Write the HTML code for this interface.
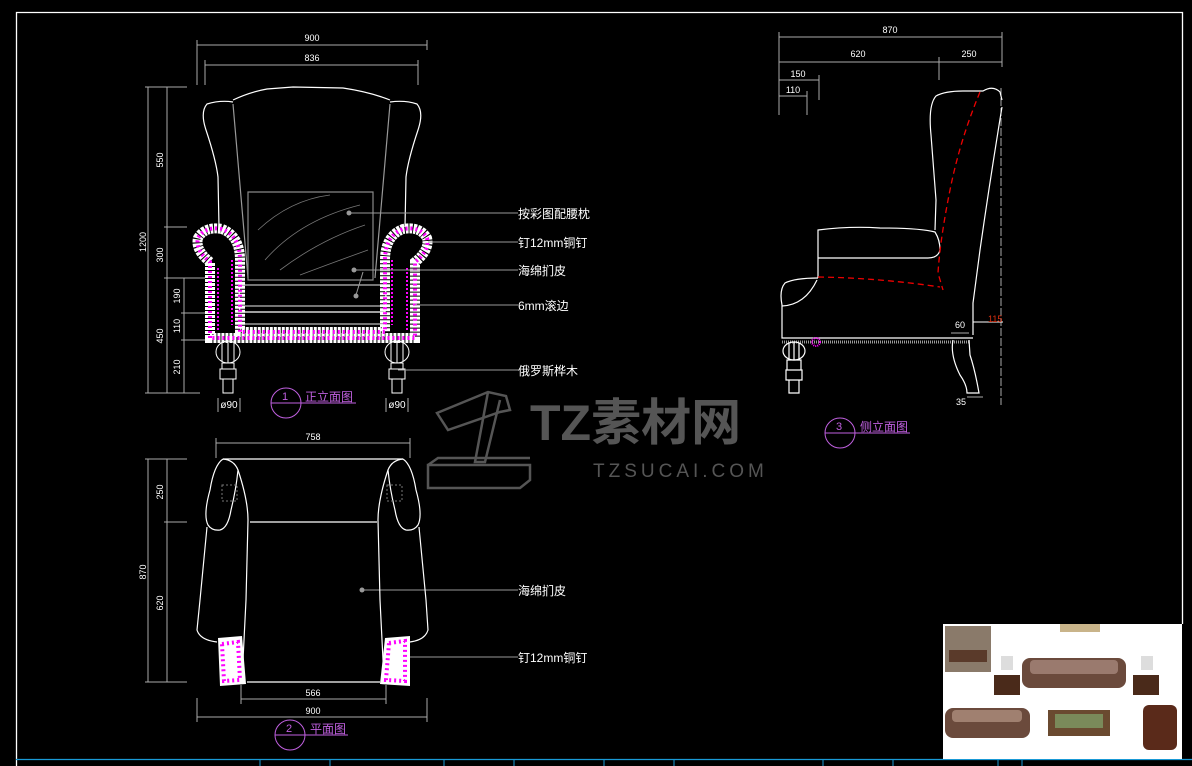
<!DOCTYPE html>
<html><head><meta charset="utf-8"><style>
html,body{margin:0;padding:0;background:#000;}
svg{display:block}
text{font-family:"Liberation Sans","Noto Sans CJK SC",sans-serif;}
</style></head><body>
<svg width="1192" height="766" viewBox="0 0 1192 766" xmlns="http://www.w3.org/2000/svg">
<rect width="1192" height="766" fill="#000"/>
<path d="M16.5 766V12.5H1182.5V624" fill="none" stroke="#fff" stroke-width="1.3"/>
<line x1="16" y1="759.5" x2="1192" y2="759.5" stroke="#1a9ad6" stroke-width="1.3"/>
<g stroke="#1a9ad6" stroke-width="1">
<line x1="260" y1="759" x2="260" y2="766"/><line x1="330" y1="759" x2="330" y2="766"/><line x1="444" y1="759" x2="444" y2="766"/><line x1="514" y1="759" x2="514" y2="766"/><line x1="604" y1="759" x2="604" y2="766"/><line x1="674" y1="759" x2="674" y2="766"/><line x1="823" y1="759" x2="823" y2="766"/><line x1="893" y1="759" x2="893" y2="766"/><line x1="998" y1="759" x2="998" y2="766"/><line x1="1022" y1="759" x2="1022" y2="766"/>
</g>

<g fill="none" stroke="#555" stroke-width="2.5">
<path d="M437 413 L488 392 L506 396 L510 410 L500 412 L448 430 Z"/>
<path d="M488 392 L475 462 L485 462 L500 400"/>
<path d="M428 465 L530 465 L530 480 L520 488 L428 488 Z M428 465 L438 458 L530 458"/>
</g>
<text x="530" y="440" font-size="50" font-weight="bold" fill="#555">TZ素材网</text>
<text x="593" y="477" font-size="19" fill="#555" letter-spacing="4">TZSUCAI.COM</text>

<g stroke="#aaa" stroke-width="1" fill="none">
<line x1="197" y1="45" x2="427" y2="45"/><line x1="197" y1="40" x2="197" y2="85"/><line x1="427" y1="40" x2="427" y2="50"/>
<line x1="205" y1="65" x2="418" y2="65"/><line x1="205" y1="60" x2="205" y2="85"/><line x1="418" y1="60" x2="418" y2="85"/>
<line x1="148" y1="87" x2="148" y2="393"/><line x1="167" y1="87" x2="167" y2="393"/><line x1="184" y1="278" x2="184" y2="393"/>
<line x1="145" y1="87" x2="187" y2="87"/><line x1="164" y1="227" x2="187" y2="227"/><line x1="164" y1="278" x2="205" y2="278"/><line x1="181" y1="313" x2="205" y2="313"/><line x1="181" y1="340" x2="205" y2="340"/><line x1="145" y1="393" x2="200" y2="393"/>
<line x1="218" y1="398" x2="218" y2="412"/><line x1="240" y1="398" x2="240" y2="412"/><line x1="386" y1="398" x2="386" y2="412"/><line x1="408" y1="398" x2="408" y2="412"/>
</g>
<g fill="#fff" font-size="9" text-anchor="middle">
<text x="312" y="41">900</text><text x="312" y="61">836</text>
<text transform="translate(146,242) rotate(-90)">1200</text>
<text transform="translate(163,160) rotate(-90)">550</text>
<text transform="translate(163,255) rotate(-90)">300</text>
<text transform="translate(163,336) rotate(-90)">450</text>
<text transform="translate(180,296) rotate(-90)">190</text>
<text transform="translate(180,326) rotate(-90)">110</text>
<text transform="translate(180,367) rotate(-90)">210</text>
<text x="229" y="408" font-size="10">ø90</text><text x="397" y="408" font-size="10">ø90</text>
</g>
<g fill="none" stroke="#fff" stroke-width="1.2">
<path d="M233 100 Q250 92 267 89 L293 87 L343 88 Q370 92 390 100"/>
<path d="M233 102 Q220 100 207 104 Q200 112 206 130 Q216 160 218 177 L219 227"/>
<path d="M390 102 Q405 100 417 104 Q424 112 418 130 Q408 160 406 177 L405 227"/>
<path d="M233 104 L248 278 M390 104 L375 278" stroke="#999"/>
<path d="M248 192 L373 192 L373 280 L248 280 Z" stroke="#888"/>
<path d="M258 230 Q290 200 330 195 M265 260 Q300 220 360 205 M280 270 Q320 240 365 225 M300 275 Q340 260 368 250" stroke="#777" stroke-width="0.8"/>
<path d="M240 285 L385 285 M240 306 L385 306 M240 324 L385 324" stroke="#bbb"/>
<path d="M240 283 Q238 300 240 312 L385 312 Q387 300 385 283"/>
</g>
<g fill="none">
<path d="M210 338 L210 262 Q195 250 198 238 Q205 226 222 229 Q240 236 240 260 L240 332 L385 332 L385 260 Q385 236 403 229 Q420 226 427 238 Q430 250 415 262 L415 338 Z" stroke="#fff" stroke-width="10" stroke-dasharray="3 1"/>
<path d="M210 338 L210 262 Q195 250 198 238 Q205 226 222 229 Q240 236 240 260 L240 332 L385 332 L385 260 Q385 236 403 229 Q420 226 427 238 Q430 250 415 262 L415 338 Z" stroke="#f0f" stroke-width="4" stroke-dasharray="2 3"/>
<path d="M218 268 L218 330 M232 260 L232 325 M392 260 L392 325 M407 268 L407 330" stroke="#f0f" stroke-width="2" stroke-dasharray="2 2"/>
</g>
<g fill="none" stroke="#fff" stroke-width="1">
<ellipse cx="228" cy="352" rx="12" ry="11"/><path d="M222 343 v18 M228 341 v22 M234 343 v18"/>
<path d="M222 363 h12 v6 h-12z M220 369 h16 v10 h-16z M223 379 h10 v14 h-10z"/>
<ellipse cx="397" cy="352" rx="12" ry="11"/><path d="M391 343 v18 M397 341 v22 M403 343 v18"/>
<path d="M391 363 h12 v6 h-12z M389 369 h16 v10 h-16z M392 379 h10 v14 h-10z"/>
</g>
<g stroke="#999" stroke-width="1">
<line x1="349" y1="213" x2="518" y2="213"/><line x1="428" y1="242" x2="518" y2="242"/><line x1="354" y1="270" x2="518" y2="270"/><line x1="415" y1="305" x2="518" y2="305"/><line x1="398" y1="370" x2="518" y2="370"/>
<line x1="362" y1="590" x2="518" y2="590"/><line x1="410" y1="657" x2="518" y2="657"/>
<line x1="363" y1="272" x2="356" y2="295"/>
</g>
<g fill="#999"><circle cx="349" cy="213" r="2.5"/><circle cx="354" cy="270" r="2.5"/><circle cx="356" cy="296" r="2.5"/><circle cx="362" cy="590" r="2.5"/></g>
<g fill="#fff" font-size="12">
<text x="518" y="218">按彩图配腰枕</text><text x="518" y="247">钉12mm铜钉</text><text x="518" y="275">海绵扪皮</text><text x="518" y="310">6mm滚边</text><text x="518" y="375">俄罗斯桦木</text>
<text x="518" y="595">海绵扪皮</text><text x="518" y="662">钉12mm铜钉</text>
</g>
<g fill="none" stroke="#c060e0" stroke-width="1">
<circle cx="286" cy="403" r="15"/><line x1="271" y1="403" x2="356" y2="403"/>
<circle cx="840" cy="433" r="15"/><line x1="825" y1="433" x2="910" y2="433"/>
<circle cx="290" cy="735" r="15"/><line x1="275" y1="735" x2="348" y2="735"/>
</g>
<g fill="#c060e0" font-size="12">
<text x="282" y="400" font-size="11">1</text><text x="305" y="401">正立面图</text>
<text x="836" y="430" font-size="11">3</text><text x="860" y="431">侧立面图</text>
<text x="286" y="732" font-size="11">2</text><text x="310" y="733">平面图</text>
</g>

<g stroke="#aaa" stroke-width="1" fill="none">
<line x1="779" y1="37" x2="1002" y2="37"/><line x1="779" y1="62" x2="1002" y2="62"/>
<line x1="779" y1="32" x2="779" y2="115"/><line x1="1002" y1="32" x2="1002" y2="67"/><line x1="939" y1="57" x2="939" y2="80"/>
<line x1="779" y1="80" x2="819" y2="80"/><line x1="819" y1="75" x2="819" y2="100"/>
<line x1="779" y1="96" x2="807" y2="96"/><line x1="807" y1="91" x2="807" y2="115"/>
<line x1="1001" y1="88" x2="1001" y2="405" stroke-dasharray="8 2"/>
<line x1="951" y1="333" x2="969" y2="333"/><line x1="967" y1="397" x2="983" y2="397"/>
</g>
<line x1="973" y1="322" x2="1003" y2="322" stroke="#fff"/>
<g fill="#fff" font-size="9" text-anchor="middle">
<text x="890" y="33">870</text><text x="858" y="57">620</text><text x="969" y="57">250</text>
<text x="798" y="77">150</text><text x="793" y="93">110</text>
<text x="960" y="328">60</text><text x="961" y="405">35</text>
</g>
<text x="988" y="322" fill="#e03010" font-size="9">115</text>
<g fill="none" stroke="#fff" stroke-width="1.2">
<path d="M935 230 L936 200 L931 135 Q928 105 936 96 Q945 91 963 91 L983 91 Q993 85 1000 92 L1002 100"/>
<path d="M1002 107 Q990 180 980 250 L973 303 L973 335"/>
<path d="M818 278 L818 230 Q850 226 880 228 Q920 228 935 232 Q940 240 940 250 Q938 258 928 258 L818 258"/>
<path d="M818 278 Q795 278 785 283 Q779 290 782 305 L782 338 L973 338"/>
<path d="M782 306 Q805 305 817 280" />
<path d="M782 342 L970 342" stroke="#999" stroke-width="3" stroke-dasharray="1 1"/>
<path d="M953 340 Q950 355 960 375 Q967 385 967 393 L979 393 Q975 370 970 355 L969 340"/>
<ellipse cx="794" cy="351" rx="11" ry="9"/><path d="M789 343 v16 M794 342 v18 M799 343 v16"/>
<path d="M787 360 h14 v10 h-14z M786 370 h16 v10 h-16z M789 380 h10 v13 h-10z"/>
</g>
<g fill="none" stroke="#e00" stroke-width="1.3" stroke-dasharray="6 4">
<path d="M980 92 Q960 140 950 190 Q940 240 938 273 L943 290"/>
<path d="M818 277 Q880 278 940 287"/>
</g>
<circle cx="816" cy="342" r="4" fill="none" stroke="#f0f" stroke-width="2" stroke-dasharray="1 1"/>

<g stroke="#aaa" stroke-width="1" fill="none">
<line x1="216" y1="443" x2="410" y2="443"/><line x1="216" y1="438" x2="216" y2="458"/><line x1="410" y1="438" x2="410" y2="458"/>
<line x1="148" y1="459" x2="148" y2="682"/><line x1="167" y1="459" x2="167" y2="682"/>
<line x1="145" y1="459" x2="187" y2="459"/><line x1="164" y1="522" x2="187" y2="522"/><line x1="145" y1="682" x2="187" y2="682"/>
<line x1="241" y1="699" x2="386" y2="699"/><line x1="241" y1="685" x2="241" y2="704"/><line x1="386" y1="685" x2="386" y2="704"/>
<line x1="197" y1="717" x2="427" y2="717"/><line x1="197" y1="698" x2="197" y2="722"/><line x1="427" y1="698" x2="427" y2="722"/>
</g>
<g fill="#fff" font-size="9" text-anchor="middle">
<text x="313" y="440">758</text><text x="313" y="696">566</text><text x="313" y="714">900</text>
<text transform="translate(163,492) rotate(-90)">250</text>
<text transform="translate(163,603) rotate(-90)">620</text>
<text transform="translate(146,572) rotate(-90)">870</text>
</g>
<g fill="none" stroke="#fff" stroke-width="1.2">
<path d="M223 459 L403 459"/>
<path d="M223 459 Q214 465 210 490 Q203 515 208 525 Q212 531 220 530 Q228 528 231 510 Q236 490 238 470 Q234 460 223 459"/>
<path d="M403 459 Q412 465 416 490 Q423 515 418 525 Q414 531 406 530 Q398 528 395 510 Q390 490 388 470 Q392 460 403 459"/>
<path d="M238 470 Q248 500 248 520 L246 600 L242 680"/>
<path d="M388 470 Q378 500 378 520 L380 600 L384 680"/>
<path d="M207 527 L200 600 L197 630 Q200 640 217 642"/>
<path d="M419 527 L426 600 L428 630 Q425 640 410 642"/>
<path d="M250 522 L377 522 M247 682 L380 682"/>
</g>
<g fill="none" stroke="#777" stroke-dasharray="2 2"><rect x="222" y="485" width="15" height="16"/><rect x="387" y="485" width="15" height="16"/></g>
<g>
<path d="M218 638 L242 636 L246 684 L220 686 Z M385 638 L410 636 L410 686 L380 684 Z" fill="#fff"/>
<path d="M222 644 L238 642 L240 680 L224 681 Z M389 643 L405 641 L405 681 L386 680 Z" fill="none" stroke="#f0f" stroke-width="4" stroke-dasharray="2 3"/>
</g>

<rect x="943" y="624" width="239" height="135" fill="#fff"/>
<rect x="945" y="626" width="46" height="46" fill="#8a7a6a"/>
<rect x="949" y="650" width="38" height="12" fill="#5a3a2a"/>
<rect x="1022" y="658" width="104" height="30" rx="8" fill="#6b4a3c"/>
<rect x="1030" y="660" width="88" height="14" rx="4" fill="#9a7a6e"/>
<rect x="994" y="675" width="26" height="20" fill="#4a2a1a"/>
<rect x="1133" y="675" width="26" height="20" fill="#4a2a1a"/>
<rect x="1001" y="656" width="12" height="14" fill="#ddd"/><rect x="1141" y="656" width="12" height="14" fill="#ddd"/>
<rect x="1060" y="624" width="40" height="8" fill="#c9b48a"/>
<rect x="945" y="708" width="85" height="30" rx="8" fill="#6b4a3c"/>
<rect x="952" y="710" width="70" height="12" rx="4" fill="#a08070"/>
<rect x="1048" y="710" width="62" height="26" fill="#6a4a30"/>
<rect x="1055" y="714" width="48" height="14" fill="#7a8a5a"/>
<rect x="1143" y="705" width="34" height="45" rx="6" fill="#5a2a1a"/>
</svg>
</body></html>
